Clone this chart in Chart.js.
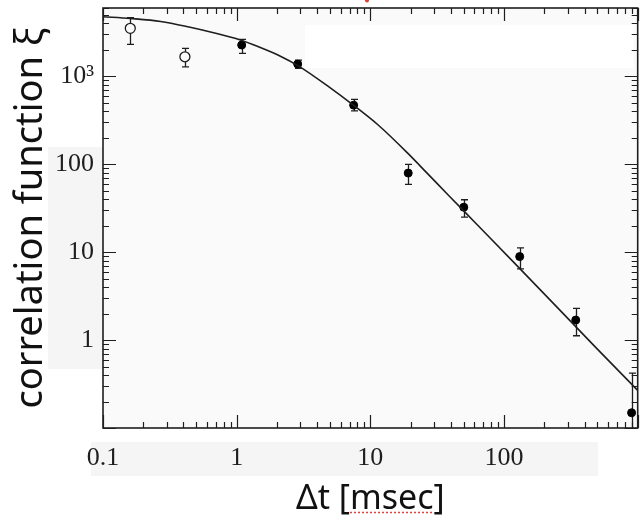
<!DOCTYPE html>
<html>
<head>
<meta charset="utf-8">
<script src="https://cdn.jsdelivr.net/npm/chart.js@4/dist/chart.umd.min.js"></script>
<style>
  html, body { margin: 0; padding: 0; background: #ffffff; }
  #wrap { width: 644px; height: 520px; }
</style>
</head>
<body>
<div id="wrap"><canvas id="c" width="644" height="520"></canvas></div>
<script>
// Fitted correlation curve (time lag in msec, correlation value)
const fitT  = [0.1, 0.16, 0.27, 0.44, 0.66, 1.04, 1.47, 2.07, 2.91, 4.87, 7.46, 11.5, 19.1, 26.9, 37.9, 63.3, 126, 249, 493, 1000];
const fitXi = [4780, 4560, 4220, 3650, 3160, 2630, 2160, 1730, 1310, 765, 471, 278, 133, 77.8, 45.4, 20.4, 6.95, 2.37, 0.806, 0.268];

// Measured points, open markers
const openT  = [0.16, 0.41];
const openXi = [3525, 1672];
const openLo = [2317, 1286];
const openHi = [4660, 2084];

// Measured points, filled markers
const filledT  = [1.09, 2.86, 7.5, 19.2, 50, 131, 344, 900];
const filledXi = [2275, 1381, 471, 79.5, 32.5, 8.91, 1.69, 0.149];
const filledLo = [1830, 1234, 405, 59.2, 25.0, 6.45, 1.12, 0.08];
const filledHi = [2642, 1535, 547, 100, 39.5, 11.2, 2.29, 0.42];

// Axis ticks
const xTickValues = [0.1, 1, 10, 100];
const xTickLabels = ['0.1', '1', '10', '100'];
const yTickValues = [1, 10, 100, 1000];
const yTickLabels = ['1', '10', '100', '10³'];
const xRange = [0.1, 1000];
const yRange = [0.1, 6000];

const INK = '#1e1e1e';
const PLOT_BG = '#fafafa';
const PATCH_BG = '#f5f5f5';

function pairs(xs, ys) { return xs.map((x, i) => ({ x: x, y: ys[i] })); }

// log-decade tick values between lo and hi
function logTicks(lo, hi) {
  const major = [], minor = [];
  for (let e = Math.floor(Math.log10(lo)); e <= Math.ceil(Math.log10(hi)); e++) {
    for (let m = 1; m <= 9; m++) {
      const v = m * Math.pow(10, e);
      if (v < lo * 0.999 || v > hi * 1.001) continue;
      (m === 1 ? major : minor).push(v);
    }
  }
  return { major, minor };
}

const backdrop = {
  id: 'backdrop',
  beforeDraw(chart) {
    const { ctx, chartArea: a } = chart;
    ctx.save();
    ctx.fillStyle = '#ffffff';
    ctx.fillRect(0, 0, chart.width, chart.height);
    ctx.fillStyle = PLOT_BG;
    ctx.fillRect(a.left, a.top, a.right - a.left, a.bottom - a.top);
    ctx.fillStyle = '#ffffff';
    ctx.fillRect(305, 25, 328, 43);
    ctx.fillStyle = PATCH_BG;
    ctx.fillRect(48, 147, a.left - 48, 222);
    ctx.fillRect(91, 442, 507, 34);
    ctx.restore();
  }
};

const errorBars = {
  id: 'errorBars',
  beforeDatasetsDraw(chart) {
    const { ctx, chartArea: a } = chart;
    const xs = chart.scales.x, ys = chart.scales.y;
    ctx.save();
    ctx.beginPath();
    ctx.rect(a.left, a.top, a.right - a.left, a.bottom - a.top);
    ctx.clip();
    ctx.strokeStyle = INK;
    ctx.lineWidth = 1.3;
    const draw = (T, lo, hi) => {
      T.forEach((t, i) => {
        const px = Math.round(xs.getPixelForValue(t)) + 0.5;
        const y1 = ys.getPixelForValue(lo[i]);
        const y2 = ys.getPixelForValue(hi[i]);
        ctx.beginPath();
        ctx.moveTo(px, y1); ctx.lineTo(px, y2);
        ctx.moveTo(px - 3.5, y1); ctx.lineTo(px + 3.5, y1);
        ctx.moveTo(px - 3.5, y2); ctx.lineTo(px + 3.5, y2);
        ctx.stroke();
      });
    };
    draw(openT, openLo, openHi);
    draw(filledT, filledLo, filledHi);
    ctx.restore();
  }
};

const frame = {
  id: 'frame',
  afterDatasetsDraw(chart) {
    const { ctx, chartArea: a } = chart;
    const xs = chart.scales.x, ys = chart.scales.y;
    const xt = logTicks(xRange[0], xRange[1]);
    const yt = logTicks(yRange[0], yRange[1]);
    ctx.save();
    ctx.strokeStyle = INK;
    ctx.lineWidth = 1.2;
    ctx.beginPath();
    const xMark = (v, len) => {
      const p = Math.round(xs.getPixelForValue(v)) + 0.5;
      ctx.moveTo(p, a.bottom); ctx.lineTo(p, a.bottom - len);
      ctx.moveTo(p, a.top); ctx.lineTo(p, a.top + len);
    };
    const yMark = (v, len) => {
      const p = Math.round(ys.getPixelForValue(v)) + 0.5;
      ctx.moveTo(a.left, p); ctx.lineTo(a.left + len, p);
      ctx.moveTo(a.right, p); ctx.lineTo(a.right - len, p);
    };
    xt.major.forEach(v => xMark(v, 13));
    xt.minor.forEach(v => xMark(v, 6));
    yt.major.forEach(v => yMark(v, 13));
    yt.minor.forEach(v => yMark(v, 6));
    ctx.stroke();
    ctx.lineWidth = 1.6;
    ctx.strokeRect(a.left, a.top, a.right - a.left, a.bottom - a.top);
    ctx.restore();
  },
  afterDraw(chart) {
    // dotted red underline beneath the unit of the x-axis title
    const { ctx, chartArea: a } = chart;
    const t = chart.options.scales.x.title;
    ctx.save();
    ctx.font = t.font.size + 'px ' + t.font.family;
    const full = t.text;
    const w = ctx.measureText(full).width;
    const x0 = (a.left + a.right) / 2 - w / 2;
    const s = x0 + ctx.measureText('Δt [').width;
    const e = x0 + ctx.measureText('Δt [msec').width;
    ctx.strokeStyle = '#e0403a';
    ctx.lineWidth = 1.5;
    ctx.setLineDash([2, 2]);
    ctx.beginPath();
    ctx.moveTo(s, 512.5); ctx.lineTo(e, 512.5);
    ctx.stroke();
    ctx.setLineDash([]);
    ctx.fillStyle = '#e0403a';
    ctx.beginPath();
    ctx.arc(367, 0.5, 2, 0, Math.PI * 2);
    ctx.fill();
    ctx.restore();
  }
};

new Chart(document.getElementById('c'), {
  type: 'scatter',
  data: {
    datasets: [
      {
        type: 'line',
        data: pairs(fitT, fitXi),
        borderColor: INK,
        borderWidth: 1.6,
        pointRadius: 0,
        fill: false,
        cubicInterpolationMode: 'monotone'
      },
      {
        data: pairs(filledT, filledXi),
        pointRadius: 4,
        pointBackgroundColor: '#000000',
        pointBorderColor: '#000000',
        pointBorderWidth: 1
      },
      {
        data: pairs(openT, openXi),
        pointRadius: 5,
        pointBackgroundColor: PLOT_BG,
        pointBorderColor: INK,
        pointBorderWidth: 1.3
      }
    ]
  },
  options: {
    responsive: false,
    animation: false,
    devicePixelRatio: 1,
    layout: { padding: { top: 8, right: 3, left: 0, bottom: 0 } },
    plugins: { legend: { display: false }, tooltip: { enabled: false } },
    scales: {
      x: {
        type: 'logarithmic',
        position: 'bottom',
        min: xRange[0],
        max: xRange[1],
        grid: { display: false, drawTicks: false, tickLength: 0 },
        border: { display: false },
        afterBuildTicks: s => { s.ticks = xTickValues.map(v => ({ value: v })); },
        afterFit: s => { s.height = 92; s.paddingLeft = 0; s.paddingRight = 0; },
        ticks: {
          autoSkip: false,
          maxRotation: 0,
          padding: 15,
          color: INK,
          font: { family: 'Liberation Serif', size: 26 },
          callback: (v) => { const i = xTickValues.indexOf(v); return i >= 0 ? xTickLabels[i] : ''; }
        },
        title: {
          display: true,
          text: 'Δt [msec]',
          color: '#111111',
          font: { family: 'Noto Sans', size: 34, weight: 'normal' },
          padding: { top: 0, bottom: 0 }
        }
      },
      y: {
        type: 'logarithmic',
        position: 'left',
        min: yRange[0],
        max: yRange[1],
        grid: { display: false, drawTicks: false, tickLength: 0 },
        border: { display: false },
        afterBuildTicks: s => { s.ticks = yTickValues.map(v => ({ value: v })); },
        afterFit: s => { s.width = 103; s.paddingTop = 0; s.paddingBottom = 0; },
        ticks: {
          autoSkip: false,
          padding: 9,
          color: INK,
          font: { family: 'Liberation Serif', size: 26 },
          callback: (v) => { const i = yTickValues.indexOf(v); return i >= 0 ? yTickLabels[i] : ''; }
        },
        title: {
          display: true,
          text: 'correlation function ξ',
          color: '#111111',
          font: { family: 'Noto Sans', size: 38, weight: 'normal' },
          padding: { top: 8, bottom: 0 }
        }
      }
    }
  },
  plugins: [backdrop, errorBars, frame]
});
</script>
</body>
</html>
